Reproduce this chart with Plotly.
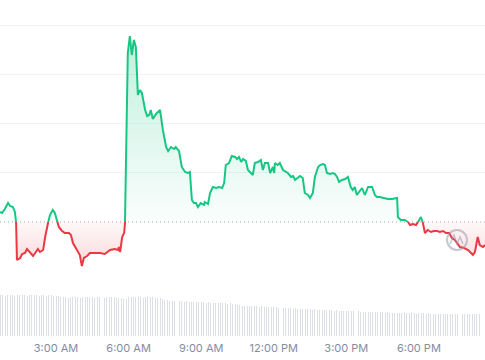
import pandas as pd
import plotly.graph_objects as go

# ---- data ----
minutes = [41, 46, 53, 61, 66, 73, 78, 81, 83, 91, 96, 103, 108, 115, 123, 130, 135, 140, 148, 153,
           158, 160, 165, 172, 177, 182, 187, 195, 202, 212, 217, 222, 227, 234, 239, 244, 249, 257, 264, 277,
           289, 301, 314, 326, 334, 336, 339, 344, 349, 351, 358, 363, 368, 373, 378, 383, 388, 393, 401, 406,
           411, 415, 420, 428, 438, 445, 453, 458, 465, 473, 477, 485, 492, 500, 507, 512, 517, 522, 527, 532,
           539, 547, 549, 557, 562, 569, 577, 584, 592, 597, 601, 609, 616, 624, 629, 634, 639, 644, 651, 656,
           663, 668, 673, 681, 688, 693, 698, 706, 711, 718, 721, 723, 730, 735, 743, 750, 755, 763, 768, 773,
           780, 785, 792, 797, 805, 810, 817, 822, 830, 835, 842, 847, 852, 859, 867, 872, 877, 882, 889, 897,
           904, 911, 916, 921, 926, 934, 939, 946, 954, 964, 971, 976, 983, 993, 1003, 1013, 1021, 1026, 1028, 1035,
           1045, 1053, 1058, 1065, 1073, 1078, 1085, 1090, 1095, 1102, 1110, 1117, 1125, 1132, 1140, 1147, 1155, 1162, 1169, 1174,
           1182, 1192, 1202, 1214, 1219, 1226, 1231, 1239, 1244]
price = [88, 87, 91, 97, 94, 93, 88, 77, 40, 42, 46, 47, 51, 48, 44, 48, 51, 48, 50, 63,
         72, 77, 85, 90, 87, 80, 73, 69, 67, 67, 65, 57, 53, 49, 45, 34, 42, 44, 47, 47,
         47, 46, 50, 51, 50, 53, 48, 63, 67, 77, 247, 264, 245, 260, 253, 205, 210, 207, 190, 184,
         185, 190, 181, 186, 190, 170, 153, 149, 153, 151, 153, 149, 133, 128, 127, 128, 100, 97, 97, 93,
         97, 95, 98, 96, 107, 113, 112, 113, 112, 117, 135, 137, 144, 143, 141, 143, 138, 141, 139, 130,
         127, 125, 137, 138, 140, 130, 137, 137, 127, 133, 127, 137, 135, 137, 130, 128, 127, 123, 124, 120,
         122, 124, 122, 107, 105, 102, 107, 123, 133, 135, 136, 135, 127, 126, 127, 126, 123, 118, 120, 121,
         123, 113, 110, 113, 105, 109, 112, 105, 113, 113, 105, 103, 103, 102, 101, 101, 102, 102, 83, 80,
         80, 78, 75, 76, 75, 78, 83, 77, 67, 70, 68, 69, 69, 68, 69, 67, 67, 62, 60, 57,
         53, 52, 50, 45, 48, 63, 55, 53, 55]
open_price = 78

volume = [41, 41, 40, 41, 41, 41, 40, 41, 41, 41, 41, 40, 41, 41, 41, 41, 40, 41, 41, 40, 41, 41, 40,
          40, 40,
          39, 39, 39, 38, 39, 39, 39, 39, 38, 39, 39, 39, 39, 39, 38, 39, 39, 39, 38, 39, 39, 39, 39, 38, 38, 38,
          37, 37,
          39, 39, 39, 39, 39, 39, 38, 39, 39, 39, 39, 38, 38, 38, 37,
          36, 36, 35,
          35, 35, 35, 35, 35, 34, 35, 34, 34, 34, 34, 34, 34, 34, 33, 34, 33, 33, 33, 33, 33, 33, 33, 32, 33, 32, 32, 31, 31, 30,
          30, 30, 30, 30, 30, 30, 29, 30, 29, 29, 29, 29, 29, 29, 28,
          28, 28, 28, 28, 28, 27, 28, 27, 27, 27, 27, 27, 27, 26, 27, 26, 26, 26, 26, 26, 26, 26, 25, 26, 25,
          25, 25, 25, 25, 25, 25, 24, 25, 24, 24, 24, 24, 24, 24, 24, 24, 24, 24, 23, 24, 23, 23, 23, 23, 23,
          23, 23, 23, 23, 23, 23, 22, 23, 23, 23, 22, 23, 22, 22, 22, 22, 22, 22, 22, 22, 22, 22, 22, 22, 22, 22, 22, 22, 22, 22, 22, 22, 22]
volume_start_min = 42
volume_step_min = 6

tick_minutes = [180, 360, 540, 720, 900, 1080]
tick_labels = ["3:00 AM", "6:00 AM", "9:00 AM", "12:00 PM", "3:00 PM", "6:00 PM"]

day = pd.Timestamp("2024-03-12")
def to_time(m):
    return day + pd.Timedelta(minutes=m)

GREEN = "#16c784"
RED = "#ea3943"

# ---- split the series at the opening-price crossings (for colouring only) ----
seg_t, seg_p = [], []
for i in range(len(price)):
    if i > 0:
        p1, p2 = price[i - 1], price[i]
        if (p1 - open_price) * (p2 - open_price) < 0:
            t1, t2 = minutes[i - 1], minutes[i]
            tc = t1 + (open_price - p1) / (p2 - p1) * (t2 - t1)
            seg_t.append(tc)
            seg_p.append(open_price)
    seg_t.append(minutes[i])
    seg_p.append(price[i])

xt = [to_time(m) for m in seg_t]
green_line = [p if p >= open_price else None for p in seg_p]
red_line = [p if p <= open_price else None for p in seg_p]
green_fill = [max(p, open_price) for p in seg_p]
red_fill = [min(p, open_price) for p in seg_p]
base = [open_price] * len(seg_p)

vol_x = [to_time(volume_start_min + volume_step_min * i) for i in range(len(volume))]

fig = go.Figure()

fig.add_trace(go.Bar(x=vol_x, y=volume, yaxis="y2", marker=dict(color="#dcdfe6", line_width=0),
                     width=1000 * 60 * 2.4, hoverinfo="skip"))

fig.add_trace(go.Scatter(x=xt, y=base, mode="lines", line=dict(width=0), hoverinfo="skip"))
fig.add_trace(go.Scatter(x=xt, y=green_fill, mode="lines", line=dict(width=0), fill="tonexty",
                         fillgradient=dict(type="vertical", start=open_price, stop=264,
                                           colorscale=[[0, "rgba(22,199,132,0.02)"], [1, "rgba(22,199,132,0.27)"]]),
                         hoverinfo="skip"))
fig.add_trace(go.Scatter(x=xt, y=base, mode="lines", line=dict(width=0), hoverinfo="skip"))
fig.add_trace(go.Scatter(x=xt, y=red_fill, mode="lines", line=dict(width=0), fill="tonexty",
                         fillgradient=dict(type="vertical", start=34, stop=open_price,
                                           colorscale=[[0, "rgba(234,57,67,0.20)"], [1, "rgba(234,57,67,0.03)"]]),
                         hoverinfo="skip"))
fig.add_trace(go.Scatter(x=xt, y=green_line, mode="lines", line=dict(color=GREEN, width=2),
                         connectgaps=False))
fig.add_trace(go.Scatter(x=xt, y=red_line, mode="lines", line=dict(color=RED, width=2),
                         connectgaps=False))

# opening-price dotted line
fig.add_shape(type="line", xref="paper", x0=0, x1=1, yref="y", y0=open_price, y1=open_price,
              line=dict(color="rgba(130,130,130,0.7)", width=1, dash="1px,3px"), layer="below")

# watermark logo
fig.add_shape(type="circle", xref="paper", yref="paper", x0=447 / 485, x1=467 / 485,
              y0=1 - 250 / 336, y1=1 - 230 / 336,
              line=dict(color="rgba(150,155,175,0.55)", width=2))
def pp(xpx, ypx):
    return f"{xpx / 485:.4f},{1 - ypx / 336:.4f}"
fig.add_shape(type="path", xref="paper", yref="paper",
              path="M" + pp(450, 244) + " L" + pp(454, 235) + " L" + pp(457, 244) + " L" + pp(460, 237) + " L" + pp(463, 244),
              line=dict(color="rgba(150,155,175,0.55)", width=1.5))

fig.update_layout(
    width=485, height=360,
    margin=dict(l=0, r=0, t=0, b=24),
    paper_bgcolor="white", plot_bgcolor="white",
    showlegend=False,
    bargap=0,
    xaxis=dict(range=[to_time(41), to_time(1244)], showgrid=False, zeroline=False, showline=False,
               ticks="", tickvals=[to_time(m) for m in tick_minutes], ticktext=tick_labels,
               tickfont=dict(family="Inter, sans-serif", size=11, color="#858ca2"),
               ticklabelstandoff=4),
    yaxis=dict(range=[-36, 300], domain=[0, 1], showticklabels=False, zeroline=False,
               tickvals=[128, 177, 226, 275], gridcolor="#f2f3f5", gridwidth=1),
    yaxis2=dict(range=[0, 41], domain=[0, 41 / 336], showticklabels=False, showgrid=False,
                zeroline=False, anchor="x"),
)

fig.write_html("out.html", config={"displayModeBar": False, "staticPlot": True},
               post_script="document.body.style.margin='0px';")
